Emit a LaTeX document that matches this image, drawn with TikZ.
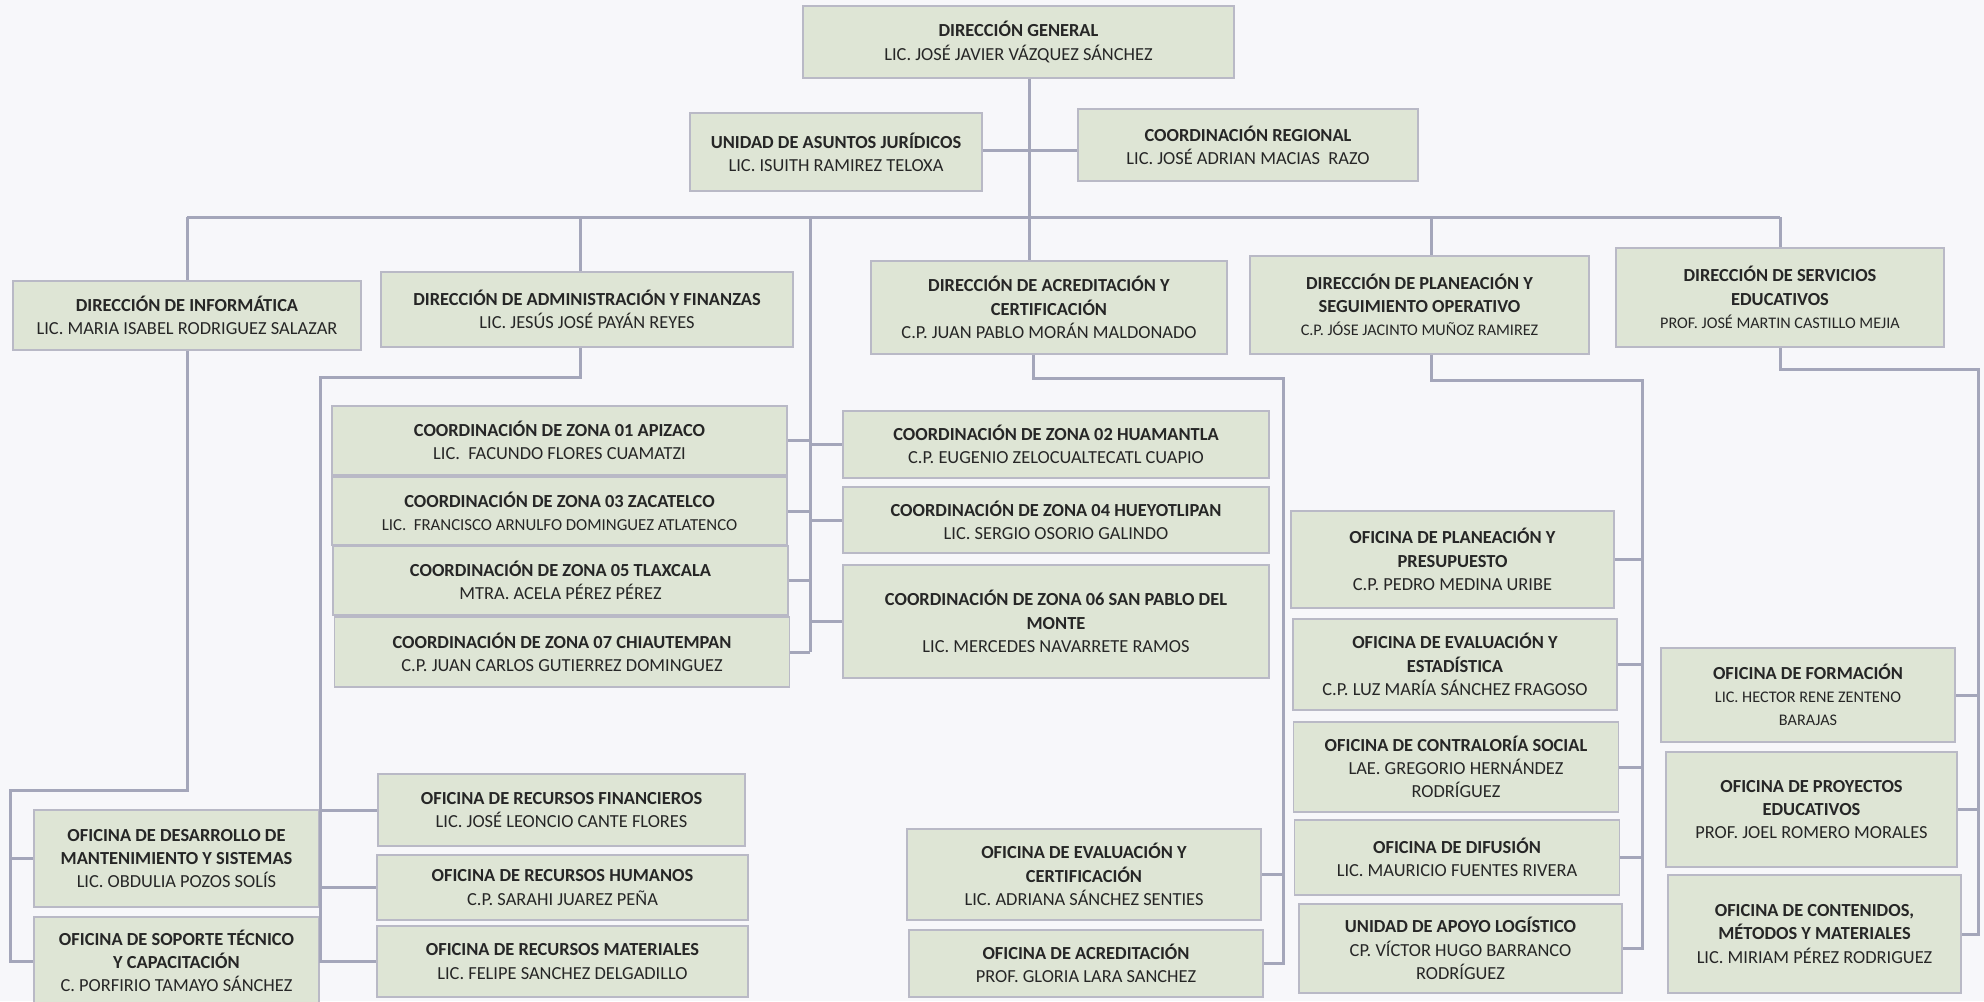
\documentclass[tikz,border=0pt]{standalone}
\usepackage{fontspec}
\setmainfont{Carlito}
\definecolor{bgc}{HTML}{F7F7FA}
\definecolor{boxfill}{HTML}{DEE5D5}
\definecolor{boxline}{HTML}{B9B9C6}
\definecolor{wirec}{HTML}{A4A6BA}
\definecolor{txtc}{HTML}{262626}
\newcommand\ttl[1]{\textbf{#1}}
\newcommand\smtxt[1]{{\fontsize{8.1}{10}\selectfont #1}}
\newcommand\smtxtb[1]{{\fontsize{8.4}{10}\selectfont #1}}
\tikzset{
  box/.style={draw=boxline, fill=boxfill, line width=0.9pt, inner sep=1pt, align=center,
    text=txtc, font=\fontsize{9.2}{11.6}\selectfont},
  sz/.style 2 args={minimum width=#1*0.5pt, minimum height=#2*0.5pt},
  wire/.style={draw=wirec, line width=1.5pt}
}
\begin{document}
\begin{tikzpicture}[x=0.5pt,y=-0.5pt]
\fill[bgc] (0,0) rectangle (1984,1001);
\useasboundingbox (0,0) rectangle (1984,1001);
% coordinates for connectors
\coordinate (trunk) at (1029,0);
\coordinate (jr) at (1029,150);
\coordinate (busL) at (187,217);
\coordinate (busR) at (1780,217);
\coordinate (zx) at (810,217);
\coordinate (ax) at (580,217);
\coordinate (px) at (1431,217);
\coordinate (cx) at (1033,0);
\coordinate (i1) at (192,790);
\coordinate (i2) at (10,790);
\coordinate (a1) at (320,377);
\coordinate (c1) at (1283,378);
\coordinate (p1) at (1642,380);
\coordinate (s1) at (1978,369);
% top
\node[box, sz={431}{72}] (dg) at (1018.5,42) {\ttl{DIRECCIÓN GENERAL}\\LIC. JOSÉ JAVIER VÁZQUEZ SÁNCHEZ};
\node[box, sz={292}{78}] (jur) at (836,152) {\ttl{UNIDAD DE ASUNTOS JURÍDICOS}\\LIC. ISUITH RAMIREZ TELOXA};
\node[box, sz={340}{72}] (reg) at (1248,145) {\ttl{COORDINACIÓN REGIONAL}\\LIC. JOSÉ ADRIAN MACIAS\ \ RAZO};
% directors
\node[box, sz={348}{69}] (inf) at (187,315.5) {\ttl{DIRECCIÓN DE INFORMÁTICA}\\LIC. MARIA ISABEL RODRIGUEZ SALAZAR};
\node[box, sz={412}{75}] (adm) at (587,309.5) {\ttl{DIRECCIÓN DE ADMINISTRACIÓN Y FINANZAS}\\LIC. JESÚS JOSÉ PAYÁN REYES};
\node[box, sz={356}{93}] (acr) at (1049,307.5) {\ttl{DIRECCIÓN DE ACREDITACIÓN Y}\\\ttl{CERTIFICACIÓN}\\C.P. JUAN PABLO MORÁN MALDONADO};
\node[box, sz={339}{98}] (pla) at (1419.5,305) {\ttl{DIRECCIÓN DE PLANEACIÓN Y}\\\ttl{SEGUIMIENTO OPERATIVO}\\\smtxt{C.P. JÓSE JACINTO MUÑOZ RAMIREZ}};
\node[box, sz={328}{99}] (ser) at (1780,297.5) {\ttl{DIRECCIÓN DE SERVICIOS}\\\ttl{EDUCATIVOS}\\\smtxt{PROF. JOSÉ MARTIN CASTILLO MEJIA}};
% zones
\node[box, sz={455}{69}] (z01) at (559.5,440.5) {\ttl{COORDINACIÓN DE ZONA 01 APIZACO}\\LIC.\ \ FACUNDO FLORES CUAMATZI};
\node[box, sz={455}{68}] (z03) at (559.5,511) {\ttl{COORDINACIÓN DE ZONA 03 ZACATELCO}\\\smtxtb{LIC.\ \ FRANCISCO ARNULFO DOMINGUEZ ATLATENCO}};
\node[box, sz={455}{69}] (z05) at (560.5,580.5) {\ttl{COORDINACIÓN DE ZONA 05 TLAXCALA}\\MTRA. ACELA PÉREZ PÉREZ};
\node[box, sz={455}{70}] (z07) at (562,652) {\ttl{COORDINACIÓN DE ZONA 07 CHIAUTEMPAN}\\C.P. JUAN CARLOS GUTIERREZ DOMINGUEZ};
\node[box, sz={426}{67}] (z02) at (1056,444.5) {\ttl{COORDINACIÓN DE ZONA 02 HUAMANTLA}\\C.P. EUGENIO ZELOCUALTECATL CUAPIO};
\node[box, sz={426}{66}] (z04) at (1056,520) {\ttl{COORDINACIÓN DE ZONA 04 HUEYOTLIPAN}\\LIC. SERGIO OSORIO GALINDO};
\node[box, sz={426}{113}] (z06) at (1056,621.5) {\ttl{COORDINACIÓN DE ZONA 06 SAN PABLO DEL}\\\ttl{MONTE}\\LIC. MERCEDES NAVARRETE RAMOS};
% informatica offices
\node[box, sz={285}{97}] (des) at (176.5,858.5) {\ttl{OFICINA DE DESARROLLO DE}\\\ttl{MANTENIMIENTO Y SISTEMAS}\\LIC. OBDULIA POZOS SOLÍS};
\node[box, sz={285}{88}] (sop) at (176.5,961) {\ttl{OFICINA DE SOPORTE TÉCNICO}\\\ttl{Y CAPACITACIÓN}\\C. PORFIRIO TAMAYO SÁNCHEZ};
% admin offices
\node[box, sz={367}{72}] (rf) at (561.5,810) {\ttl{OFICINA DE RECURSOS FINANCIEROS}\\LIC. JOSÉ LEONCIO CANTE FLORES};
\node[box, sz={371}{65}] (rh) at (562.5,887.5) {\ttl{OFICINA DE RECURSOS HUMANOS}\\C.P. SARAHI JUAREZ PEÑA};
\node[box, sz={371}{71}] (rm) at (562.5,961.5) {\ttl{OFICINA DE RECURSOS MATERIALES}\\LIC. FELIPE SANCHEZ DELGADILLO};
% acreditacion offices
\node[box, sz={354}{91}] (ec) at (1084,874.5) {\ttl{OFICINA DE EVALUACIÓN Y}\\\ttl{CERTIFICACIÓN}\\LIC. ADRIANA SÁNCHEZ SENTIES};
\node[box, sz={354}{67}] (oa) at (1086,963.5) {\ttl{OFICINA DE ACREDITACIÓN}\\PROF. GLORIA LARA SANCHEZ};
% planeacion offices
\node[box, sz={323}{97}] (pp) at (1452.5,559.5) {\ttl{OFICINA DE PLANEACIÓN Y}\\\ttl{PRESUPUESTO}\\C.P. PEDRO MEDINA URIBE};
\node[box, sz={324}{91}] (ee) at (1455,664.5) {\ttl{OFICINA DE EVALUACIÓN Y}\\\ttl{ESTADÍSTICA}\\C.P. LUZ MARÍA SÁNCHEZ FRAGOSO};
\node[box, sz={325}{90}] (cs) at (1456,767) {\ttl{OFICINA DE CONTRALORÍA SOCIAL}\\LAE. GREGORIO HERNÁNDEZ\\RODRÍGUEZ};
\node[box, sz={325}{75}] (dif) at (1457,857.5) {\ttl{OFICINA DE DIFUSIÓN}\\LIC. MAURICIO FUENTES RIVERA};
\node[box, sz={323}{89}] (al) at (1460.5,948.5) {\ttl{UNIDAD DE APOYO LOGÍSTICO}\\CP. VÍCTOR HUGO BARRANCO\\RODRÍGUEZ};
% servicios offices
\node[box, sz={294}{94}] (for) at (1808,695) {\ttl{OFICINA DE FORMACIÓN}\\\smtxt{LIC. HECTOR RENE ZENTENO}\\\smtxt{BARAJAS}};
\node[box, sz={291}{115}] (pro) at (1811.5,809.5) {\ttl{OFICINA DE PROYECTOS}\\\ttl{EDUCATIVOS}\\PROF. JOEL ROMERO MORALES};
\node[box, sz={293}{118}] (con) at (1814.5,934) {\ttl{OFICINA DE CONTENIDOS,}\\\ttl{MÉTODOS Y MATERIALES}\\LIC. MIRIAM PÉREZ RODRIGUEZ};
% connectors
\draw[wire] (dg.south -| trunk) -- (acr.north -| trunk);
\draw[wire] (jur.east |- jr) -- (reg.west |- jr);
\draw[wire] (busL) -- (busR);
\draw[wire] (busL) -- (inf.north);
\draw[wire] (ax) -- (adm.north -| ax);
\draw[wire] (px) -- (pla.north -| px);
\draw[wire] (busR) -- (ser.north);
% zones
\draw[wire] (zx) -- (zx |- z07.east);
\foreach \z in {z01,z03,z05,z07}{\draw[wire] (zx |- \z.east) -- (\z.east);}
\foreach \z in {z02,z04,z06}{\draw[wire] (zx |- \z.west) -- (\z.west);}
% informatica
\draw[wire] (inf.south) -- (inf.south |- i1) -- (i2) -- (i2 |- sop.west) -- (sop.west);
\draw[wire] (i2 |- des.west) -- (des.west);
% admin
\draw[wire] (adm.south -| ax) -- (ax |- a1) -- (a1) -- (a1 |- rm.west) -- (rm.west);
\draw[wire] (a1 |- rf.west) -- (rf.west);
\draw[wire] (a1 |- rh.west) -- (rh.west);
% acreditacion
\draw[wire] (acr.south -| cx) -- (cx |- c1) -- (c1) -- (c1 |- oa.east) -- (oa.east);
\draw[wire] (c1 |- ec.east) -- (ec.east);
% planeacion
\draw[wire] (pla.south -| px) -- (px |- p1) -- (p1) -- (p1 |- al.east) -- (al.east);
\foreach \o in {pp,ee,cs,dif}{\draw[wire] (p1 |- \o.east) -- (\o.east);}
% servicios
\draw[wire] (ser.south) -- (ser.south |- s1) -- (s1) -- (s1 |- con.east) -- (con.east);
\draw[wire] (s1 |- for.east) -- (for.east);
\draw[wire] (s1 |- pro.east) -- (pro.east);
\end{tikzpicture}
\end{document}
